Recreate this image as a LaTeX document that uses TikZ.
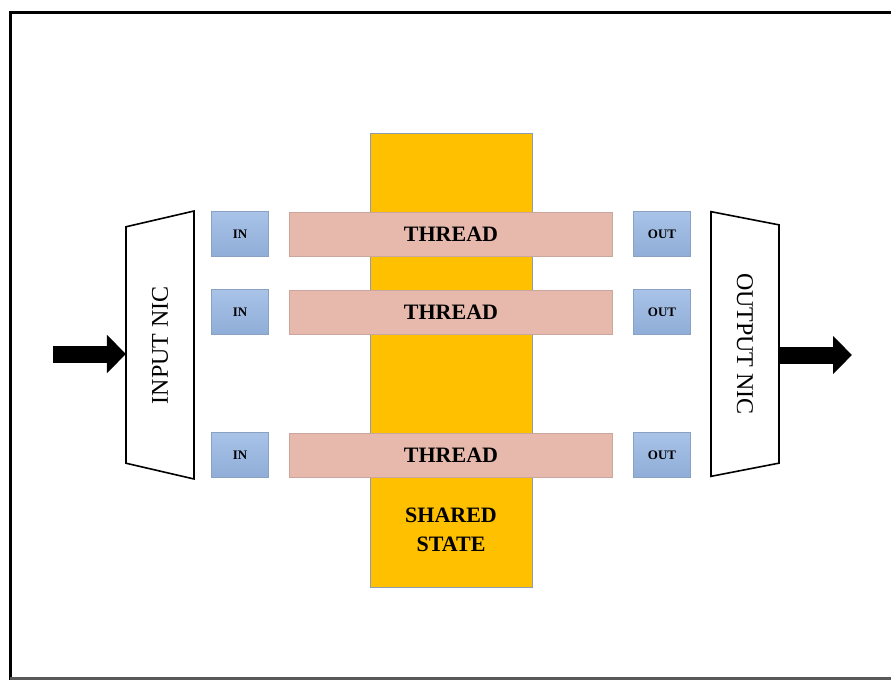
\documentclass[tikz,border=0pt]{standalone}
\usepackage{fontspec}
\setmainfont{Liberation Serif}
\usetikzlibrary{arrows.meta,shapes.geometric}

\definecolor{statefill}{HTML}{FFC000}
\definecolor{stateline}{HTML}{8C9DB0}
\definecolor{threadfill}{HTML}{E6B9AC}
\definecolor{threadline}{HTML}{C9A79E}
\definecolor{iotop}{HTML}{A9C3E8}
\definecolor{iobottom}{HTML}{8FADD7}
\definecolor{ioline}{HTML}{8AA2C2}

\begin{document}
\begin{tikzpicture}
		[x=1pt,y=-1pt,
		iobox/.style={draw=ioline, top color=iotop, bottom color=iobottom,
			minimum width=57pt, minimum height=45pt, inner sep=0pt,
			font=\fontsize{13}{14}\selectfont\bfseries},
		thread/.style={draw=threadline, fill=threadfill, minimum width=323pt,
			minimum height=44pt, inner sep=0pt,
			font=\fontsize{22}{24}\selectfont\bfseries},
		nic/.style={draw, line width=1.6pt, shape=trapezium,
			trapezium stretches=true, trapezium left angle=64,
			trapezium right angle=64, minimum height=68pt,
			inner sep=0pt, outer sep=0pt,
			font=\fontsize{24}{26}\selectfont},
		fat arrow/.style={line width=17pt,
			-{Triangle[length=19pt,width=37pt]}}]
		\useasboundingbox (0,0) rectangle (891,680);
		% frame, cut off on the right
		\draw[line width=3pt] (10,680) -- (10,12) -- (891,12);
		\draw[line width=3pt, black!65] (10,678) -- (891,678);
		% shared state behind the threads
		\node[draw=stateline, fill=statefill, minimum width=162pt,
			minimum height=454pt] (shared) at (451,360) {};
		\node[font=\fontsize{22}{29}\selectfont\bfseries, align=center]
			(state) at (451,530) {SHARED\\STATE};
		\foreach \y/\n in {234/1,312/2,455/3} {
			\node[iobox] (in\n) at (240,\y) {IN};
			\node[thread] (th\n) at (451,\y) {THREAD};
			\node[iobox] (out\n) at (662,\y) {OUT};
		}
		% network cards
		\node[nic, rotate=90, minimum width=268pt] (innic) at (160,345) {INPUT NIC};
		\node[nic, rotate=-90, minimum width=265pt] (outnic) at (745,344) {OUTPUT NIC};
		\coordinate (src) at (53,354);
		\coordinate (dst) at (852,355);
		\draw[fat arrow] (src) -- (src -| innic.north);
		\draw[fat arrow] (dst -| outnic.north) -- (dst);
	\end{tikzpicture}
\end{document}
